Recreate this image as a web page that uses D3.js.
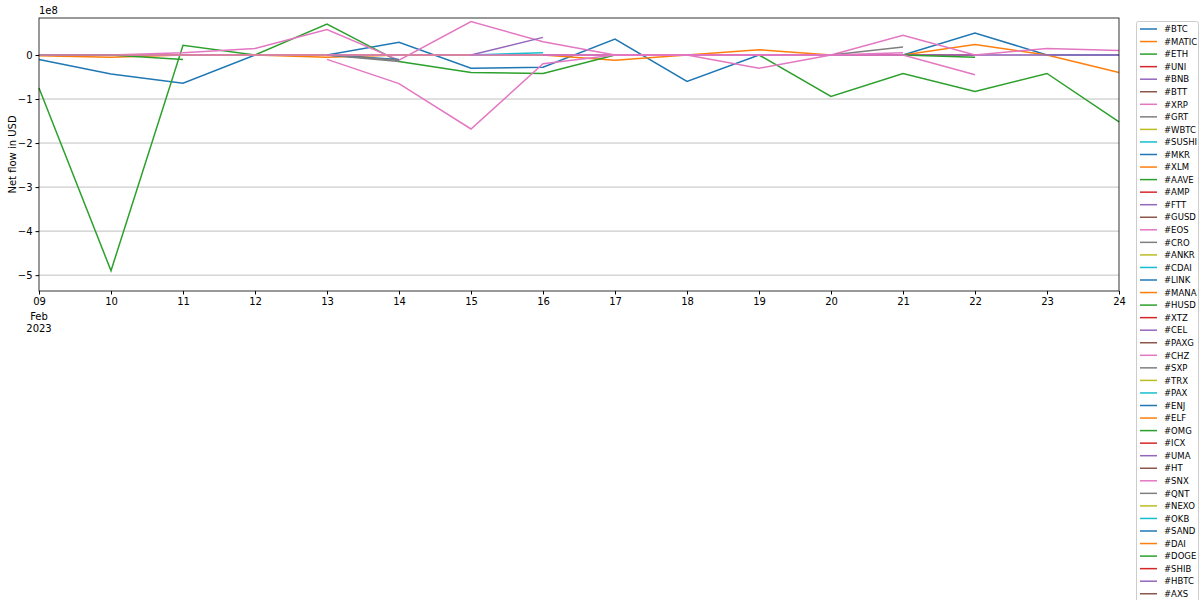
<!DOCTYPE html>
<html><head><meta charset="utf-8">
<script src="https://cdn.jsdelivr.net/npm/d3@7"></script>
<style>body{margin:0;background:#fff;font-family:"DejaVu Sans",sans-serif}</style>
</head><body><svg id="c" width="1200" height="600"></svg>
<script>
const days = [9,10,11,12,13,14,15,16,17,18,19,20,21,22,23,24];
const yTicks = [0,-1,-2,-3,-4,-5];
const names = ["#BTC","#MATIC","#ETH","#UNI","#BNB","#BTT","#XRP","#GRT","#WBTC","#SUSHI","#MKR","#XLM","#AAVE","#AMP","#FTT","#GUSD","#EOS","#CRO","#ANKR","#CDAI","#LINK","#MANA","#HUSD","#XTZ","#CEL","#PAXG","#CHZ","#SXP","#TRX","#PAX","#ENJ","#ELF","#OMG","#ICX","#UMA","#HT","#SNX","#QNT","#NEXO","#OKB","#SAND","#DAI","#DOGE","#SHIB","#HBTC","#AXS"];
const _ = null;
// values in units of 1e8 USD, one per day 9..24
const btc   = [-0.1,-0.43,-0.64,0,0,0.29,-0.3,-0.28,0.36,-0.6,0,0,0,0.5,0,0];
const matic = [-0.02,-0.05,0,0,-0.05,0,0,0,-0.12,0,0.12,0,0,0.24,0,-0.4];
const eth   = [-0.75,-4.9,0.22,0,0.7,-0.15,-0.4,-0.42,0,0,0,-0.94,-0.42,-0.83,-0.42,-1.52];
const uni   = [0,0,0,0,0,0,0,0,0,0,0,0,0,0,_,_];
const bnb   = [0,0,0,0,0,0,0,0,0,0,0,0,0,0,0,0];
const xrp   = [0,0,0.05,0.15,0.58,-0.12,0.76,0.3,0,0,-0.3,0,0.45,0,0.15,0.1];
const grt   = [_,_,_,0,0,-0.15,_,_,_,_,_,0,0.18,_,_,_];
const wbtc  = [0,0,0,0,0,0,0,0,_,_,_,_,_,_,_,_];
const sushi = [_,_,_,_,_,_,0,0.05,_,_,_,_,_,_,_,_];
const mkr   = [_,_,_,_,0,-0.1,_,_,_,_,_,_,_,_,_,_];
const aave  = [0,0,-0.1,_,_,_,_,_,_,_,_,_,_,_,_,_];
const ftt   = [_,_,_,_,_,_,0,0.4,_,_,_,_,_,_,_,_];
const chz   = [_,_,_,_,-0.1,-0.65,-1.68,-0.2,0,0,0,0,0,-0.45,_,_];
const husd  = [_,_,_,_,_,_,_,_,_,_,_,_,0,-0.05,_,_];
const snx   = [0,0,0,0,0,0,0,0,0,0,0,0,0.05,_,_,_];
const cro   = [_,_,_,_,0,-0.12,_,_,_,_,_,_,_,_,_,_];
const seriesMap = {"#BTC":btc,"#MATIC":matic,"#ETH":eth,"#UNI":uni,"#BNB":bnb,"#XRP":xrp,"#GRT":grt,"#WBTC":wbtc,"#SUSHI":sushi,"#MKR":mkr,"#AAVE":aave,"#FTT":ftt,"#CHZ":chz,"#HUSD":husd,"#SNX":snx,"#CRO":cro};
const colors = ["#1f77b4","#ff7f0e","#2ca02c","#d62728","#9467bd","#8c564b","#e377c2","#7f7f7f","#bcbd22","#17becf"];

const svg = d3.select("#c");
const L=39,R=1119,T=18,B=291;
const x = d3.scaleLinear().domain([9,24]).range([L,R]);
const y = d3.scaleLinear().domain([-5.36,0.84]).range([B,T]);
const g = svg.append("g");
g.selectAll(".gr").data(yTicks).join("line").attr("x1",L).attr("x2",R)
 .attr("y1",d=>y(d)).attr("y2",d=>y(d)).attr("stroke","#b0b0b0").attr("stroke-width",0.8);
const line = d3.line().defined(d=>d[1]!==null).x(d=>x(d[0])).y(d=>y(d[1]));
names.forEach((n,i)=>{
  const v = seriesMap[n]; if(!v) return;
  g.append("path").attr("d",line(days.map((d,j)=>[d,v[j]]))).attr("fill","none")
   .attr("stroke",colors[i%10]).attr("stroke-width",1.5);
});
svg.append("rect").attr("x",L).attr("y",T).attr("width",R-L).attr("height",B-T).attr("fill","none").attr("stroke","#000").attr("stroke-width",0.8);
const ya = svg.append("g").attr("transform",`translate(${L},0)`).call(d3.axisLeft(y).tickValues(yTicks).tickFormat(d=>d===0?"0":"\u2212"+Math.abs(d)).tickSize(3.5));
ya.select(".domain").remove();
ya.selectAll("text").attr("font-size",10).attr("font-family","DejaVu Sans").attr("fill","#000");
const xa = svg.append("g").attr("transform",`translate(0,${B})`).call(d3.axisBottom(x).tickValues(days).tickFormat(d=>String(d).padStart(2,"0")).tickSize(3.5));
xa.select(".domain").remove();
xa.selectAll("text").attr("font-size",10).attr("font-family","DejaVu Sans").attr("fill","#000");
svg.append("text").attr("x",x(9)).attr("y",B+29).attr("text-anchor","middle").attr("font-size",10).text("Feb");
svg.append("text").attr("x",x(9)).attr("y",B+41).attr("text-anchor","middle").attr("font-size",10).text("2023");
svg.append("text").attr("x",L).attr("y",T-4).attr("font-size",10).text("1e8");
svg.append("text").attr("transform",`translate(16,${(T+B)/2}) rotate(-90)`).attr("text-anchor","middle").attr("font-size",10).text("Net flow in USD");
const lg = svg.append("g");
lg.append("rect").attr("x",1136.5).attr("y",21.5).attr("width",62).attr("height",600).attr("fill","#fff").attr("stroke","#ccc").attr("rx",2);
names.forEach((n,i)=>{
  const yy = 29 + i*12.55;
  lg.append("line").attr("x1",1140).attr("x2",1157).attr("y1",yy).attr("y2",yy).attr("stroke",colors[i%10]).attr("stroke-width",1.5);
  lg.append("text").attr("x",1164).attr("y",yy+3.2).attr("font-size",8.5).text(n);
});
</script></body></html>
